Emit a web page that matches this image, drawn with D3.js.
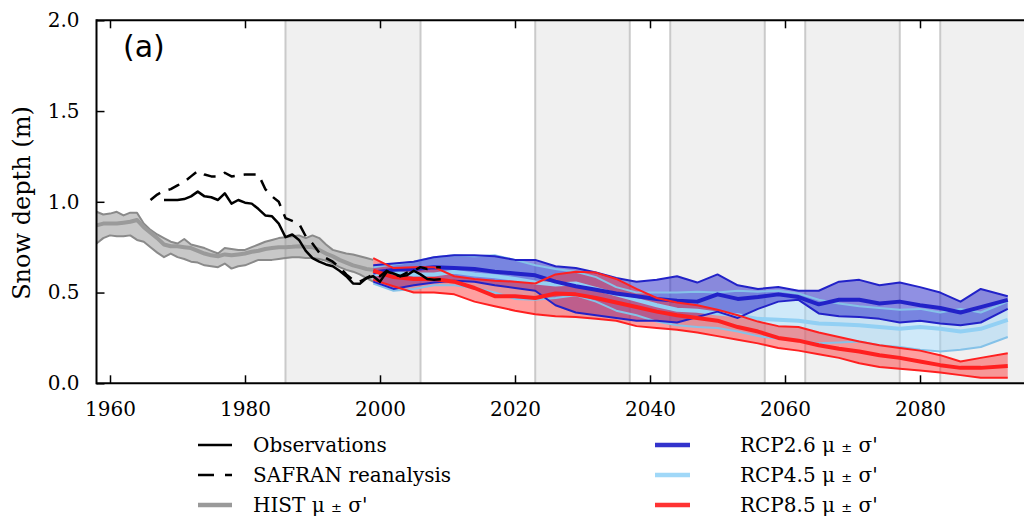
<!DOCTYPE html>
<html><head><meta charset="utf-8">
<script src="https://cdn.jsdelivr.net/npm/d3@7"></script>
<style>body{margin:0;background:#fff;} svg{display:block;} text{font-family:"DejaVu Serif",serif;}</style>
</head><body><svg id="c" width="1024" height="522"></svg>
<script>
// ---------- data ----------
const histYears = d3.range(1958, 2000);
const histMean = [.87,.88,.88,.88,.885,.89,.90,.86,.83,.80,.765,.755,.755,.75,.745,.73,.715,.705,.70,.71,.705,.71,.715,.725,.73,.74,.745,.75,.75,.752,.755,.752,.75,.735,.715,.70,.68,.665,.65,.64,.63,.625];
const histUp = [.945,.93,.935,.945,.925,.94,.94,.88,.845,.82,.80,.78,.77,.795,.765,.755,.745,.73,.715,.745,.74,.735,.735,.75,.765,.78,.79,.80,.805,.81,.815,.80,.815,.80,.765,.735,.725,.715,.71,.70,.69,.68];
const histLo = [.77,.80,.815,.81,.81,.815,.79,.78,.75,.72,.695,.715,.695,.685,.67,.665,.65,.645,.64,.66,.632,.645,.65,.665,.68,.68,.68,.685,.69,.695,.695,.69,.69,.685,.675,.66,.64,.625,.615,.60,.58,.56];

const obsYears = d3.range(1968, 2010);
const obsVals = [1.01,1.01,1.01,1.015,1.03,1.056,1.03,1.025,1.01,1.047,0.99,1.01,0.995,0.99,0.96,0.925,0.92,0.88,0.805,0.82,0.79,0.73,0.69,0.67,0.655,0.645,0.62,0.59,0.55,0.548,0.58,0.59,0.56,0.615,0.605,0.59,0.595,0.62,0.60,0.575,0.57,0.573];

const safYears = d3.range(1966, 2010);
const safVals = [1.01,1.04,1.06,1.07,1.09,1.11,1.14,1.17,1.15,1.14,1.14,1.16,1.14,1.145,1.15,1.15,1.15,1.07,1.03,1.00,0.91,0.895,0.88,0.81,0.77,0.72,0.69,0.67,0.64,0.60,0.57,0.56,0.58,0.60,0.59,0.62,0.60,0.59,0.61,0.62,0.64,0.63,0.64,0.64];

const projYears = [1999,2002,2005,2008,2011,2014,2017,2020,2023,2026,2029,2032,2035,2038,2041,2044,2047,2050,2053,2056,2059,2062,2065,2068,2071,2074,2077,2080,2083,2086,2089,2093];
const rcp26Mean = [0.61,0.625,0.63,0.64,0.635,0.63,0.615,0.605,0.595,0.56,0.535,0.515,0.495,0.48,0.465,0.455,0.45,0.49,0.465,0.475,0.49,0.475,0.435,0.46,0.46,0.44,0.45,0.43,0.415,0.39,0.42,0.46];
const rcp26Up = [0.65,0.66,0.67,0.695,0.705,0.705,0.70,0.68,0.68,0.645,0.635,0.61,0.58,0.56,0.57,0.59,0.555,0.60,0.54,0.52,0.53,0.51,0.51,0.56,0.57,0.54,0.555,0.53,0.50,0.45,0.52,0.48];
const rcp26Lo = [0.56,0.52,0.54,0.555,0.565,0.56,0.54,0.525,0.51,0.43,0.39,0.375,0.36,0.345,0.345,0.335,0.365,0.395,0.36,0.41,0.45,0.46,0.385,0.37,0.365,0.355,0.335,0.345,0.33,0.32,0.335,0.41];
const rcp45Mean = [0.60,0.61,0.60,0.60,0.615,0.60,0.59,0.575,0.555,0.545,0.55,0.52,0.49,0.46,0.43,0.405,0.40,0.385,0.375,0.355,0.35,0.345,0.33,0.325,0.32,0.31,0.30,0.31,0.30,0.285,0.30,0.35];
const rcp45Up = [0.64,0.655,0.67,0.695,0.705,0.70,0.705,0.68,0.65,0.63,0.615,0.585,0.53,0.50,0.50,0.50,0.505,0.50,0.51,0.505,0.51,0.495,0.46,0.44,0.425,0.415,0.405,0.41,0.39,0.41,0.39,0.45];
const rcp45Lo = [0.55,0.51,0.52,0.54,0.54,0.525,0.50,0.465,0.46,0.47,0.485,0.45,0.40,0.375,0.34,0.32,0.31,0.305,0.285,0.26,0.245,0.235,0.22,0.225,0.23,0.21,0.20,0.185,0.175,0.185,0.20,0.255];
const rcp85Mean = [0.62,0.585,0.575,0.575,0.56,0.525,0.48,0.48,0.47,0.495,0.49,0.47,0.445,0.42,0.395,0.375,0.36,0.345,0.31,0.285,0.25,0.235,0.21,0.19,0.175,0.155,0.14,0.12,0.10,0.085,0.085,0.095];
const rcp85Up = [0.69,0.635,0.64,0.64,0.59,0.575,0.565,0.56,0.55,0.60,0.615,0.61,0.575,0.52,0.47,0.445,0.43,0.405,0.375,0.34,0.315,0.31,0.28,0.255,0.23,0.21,0.195,0.18,0.155,0.12,0.14,0.165];
const rcp85Lo = [0.57,0.535,0.50,0.50,0.49,0.45,0.425,0.40,0.38,0.37,0.365,0.355,0.345,0.315,0.305,0.295,0.28,0.26,0.24,0.22,0.195,0.18,0.16,0.14,0.11,0.09,0.08,0.07,0.06,0.045,0.03,0.03];

const periodSpans = [[1986,2006],[2023,2037],[2043,2057],[2063,2077],[2083,2100]];
const xTicks = [1960,1980,2000,2020,2040,2060,2080];
const yTicks = [0,0.5,1.0,1.5,2.0];
const panelLabel = "(a)";
const yLabel = "Snow depth (m)";
const legendLeft = ["Observations","SAFRAN reanalysis","HIST"];
const legendRight = ["RCP2.6","RCP4.5","RCP8.5"];

// ---------- chart ----------
const svg = d3.select("#c");
const L = 96.5, T = 20.3, B = 383.3;
const x = d3.scaleLinear().domain([1958, 2098]).range([L, L + 140*6.75]);
const y = d3.scaleLinear().domain([0, 2]).range([B, T]);

svg.append("defs").append("clipPath").attr("id","clip")
  .append("rect").attr("x",L).attr("y",T).attr("width",1100).attr("height",B-T);
const plot = svg.append("g").attr("clip-path","url(#clip)");

// shaded periods
plot.selectAll("rect.band").data(periodSpans).join("rect").attr("class","band")
  .attr("x",d=>x(d[0])).attr("y",T).attr("width",d=>x(d[1])-x(d[0])).attr("height",B-T)
  .attr("fill","#f0f0f0");
const edges = periodSpans.flat().filter(v=>v<2100);
plot.selectAll("line.edge").data(edges).join("line").attr("class","edge")
  .attr("x1",d=>x(d)).attr("x2",d=>x(d)).attr("y1",T).attr("y2",B)
  .attr("stroke","#cacaca").attr("stroke-width",2);

function band(years, lo, up, fill, op){
  const a = d3.area().x((d,i)=>x(years[i])).y0((d,i)=>y(lo[i])).y1((d,i)=>y(up[i]));
  plot.append("path").attr("d",a(years)).attr("fill",fill).attr("fill-opacity",op);
}
function line(years, vals, color, w, dash){
  const g = d3.line().x((d,i)=>x(years[i])).y((d,i)=>y(vals[i]));
  const p = plot.append("path").attr("d",g(years)).attr("fill","none")
    .attr("stroke",color).attr("stroke-width",w).attr("stroke-linejoin","round");
  if (dash) p.attr("stroke-dasharray",dash);
}

// HIST
band(histYears, histLo, histUp, "#9a9a9a", 0.55);
line(histYears, histUp, "#8a8a8a", 2);
line(histYears, histLo, "#8a8a8a", 2);
line(histYears, histMean, "#9a9a9a", 4);

// projections fills
const C26 = "#2222c8", C45 = "#92d0f4", C45b = "#85c2e8", C85 = "#ff2020";
band(projYears, rcp45Lo, rcp45Up, "#9fd3f3", 0.5);
band(projYears, rcp26Lo, rcp26Up, C26, 0.5);
band(projYears, rcp85Lo, rcp85Up, "#ff2a2a", 0.45);
// lines
line(projYears, rcp45Up, C45b, 2); line(projYears, rcp45Lo, C45b, 2); line(projYears, rcp45Mean, C45, 4);
line(projYears, rcp26Up, C26, 2); line(projYears, rcp26Lo, C26, 2); line(projYears, rcp26Mean, C26, 4);
line(projYears, rcp85Up, C85, 2); line(projYears, rcp85Lo, C85, 2); line(projYears, rcp85Mean, C85, 4);

// observations
line(safYears, safVals, "#000", 2.5, "12,9");
line(obsYears, obsVals, "#000", 2.5);

// axes
const xb = svg.append("g").attr("transform",`translate(0,${B})`)
  .call(d3.axisBottom(x).tickValues(xTicks).tickFormat(d3.format("d")).tickSizeInner(-8).tickSizeOuter(0).tickPadding(19));
const xt = svg.append("g").attr("transform",`translate(0,${T})`)
  .call(d3.axisTop(x).tickValues(xTicks).tickFormat("").tickSizeInner(-8).tickSizeOuter(0));
const yl = svg.append("g").attr("transform",`translate(${L},0)`)
  .call(d3.axisLeft(y).tickValues(yTicks).tickFormat(d3.format(".1f")).tickSizeInner(-8).tickSizeOuter(0).tickPadding(17));
[xb,xt,yl].forEach(g=>{
  g.select(".domain").remove();
  g.selectAll(".tick line").attr("stroke","#000").attr("stroke-width",1.5);
  g.selectAll("text").attr("font-family","DejaVu Serif").attr("font-size",20).attr("fill","#000");
});
// spines
svg.append("line").attr("x1",L).attr("x2",L).attr("y1",T-1).attr("y2",B+1).attr("stroke","#000").attr("stroke-width",2);
svg.append("line").attr("x1",L).attr("x2",1024).attr("y1",T).attr("y2",T).attr("stroke","#000").attr("stroke-width",2);
svg.append("line").attr("x1",L).attr("x2",1024).attr("y1",B).attr("y2",B).attr("stroke","#000").attr("stroke-width",2);

// labels
svg.append("text").attr("transform","translate(29.5,203) rotate(-90)").attr("text-anchor","middle")
  .attr("font-size",24).attr("fill","#000").text(yLabel);
svg.append("text").attr("x",123).attr("y",57).attr("font-family","DejaVu Sans").style("font-family","DejaVu Sans")
  .attr("font-size",30).attr("fill","#000").text(panelLabel);

// legend
function muSigma(t, base){
  t.append("tspan").text(base + " μ ");
  t.append("tspan").attr("font-size",13).text("±");
  t.append("tspan").text(" σ'");
}
const lg = svg.append("g");
const rowsY = [445,475,505];
// left column
lg.append("line").attr("x1",198).attr("x2",232).attr("y1",rowsY[0]).attr("y2",rowsY[0]).attr("stroke","#000").attr("stroke-width",2.5);
lg.append("line").attr("x1",198).attr("x2",232).attr("y1",rowsY[1]).attr("y2",rowsY[1]).attr("stroke","#000").attr("stroke-width",2.5).attr("stroke-dasharray","16,11");
lg.append("line").attr("x1",198).attr("x2",232).attr("y1",rowsY[2]).attr("y2",rowsY[2]).attr("stroke","#9a9a9a").attr("stroke-width",4.5);
lg.append("text").attr("x",253).attr("y",rowsY[0]+7).attr("font-size",20).text(legendLeft[0]);
lg.append("text").attr("x",253).attr("y",rowsY[1]+7).attr("font-size",20).text(legendLeft[1]);
muSigma(lg.append("text").attr("x",253).attr("y",rowsY[2]+7).attr("font-size",20), legendLeft[2]);
// right column
const rc = ["#3333cc","#a0d8f8","#ff3333"];
legendRight.forEach((name,i)=>{
  lg.append("line").attr("x1",655).attr("x2",690).attr("y1",rowsY[i]).attr("y2",rowsY[i]).attr("stroke",rc[i]).attr("stroke-width",4.5);
  muSigma(lg.append("text").attr("x",740).attr("y",rowsY[i]+7).attr("font-size",20), name);
});
</script></body></html>
